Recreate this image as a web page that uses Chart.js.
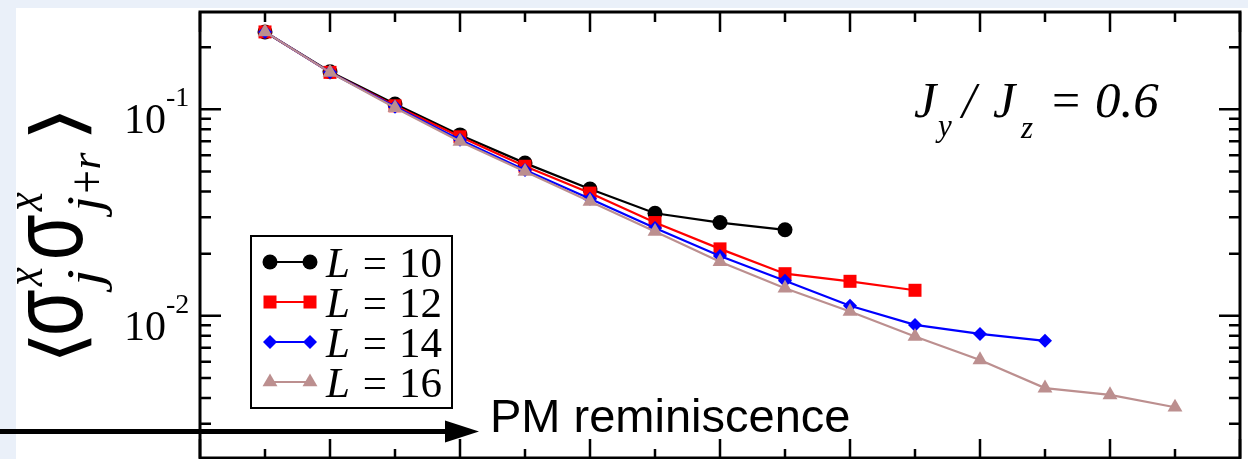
<!DOCTYPE html>
<html>
<head>
<meta charset="utf-8">
<script src="https://cdn.jsdelivr.net/npm/chart.js@4/dist/chart.umd.min.js"></script>
<style>
  html, body { margin: 0; padding: 0; overflow: hidden; width: 1248px; height: 459px; background: #EAF0F9; }
  #panel { position: absolute; left: 16px; top: 8px; width: 1232px; height: 451px; background: #ffffff; }
  #wrap { position: absolute; left: 0; top: 0; width: 1248px; height: 459px; }
  canvas { display: block; }
</style>
</head>
<body>
<div id="panel"></div>
<div id="wrap"><canvas id="c" width="1248" height="459" style="width:1248px;height:459px"></canvas></div>
<script>
// Distance r between the two spins
const rSep = [1, 2, 3, 4, 5, 6, 7, 8, 9, 10, 11, 12, 13, 14, 15];

// <sigma^x_j sigma^x_{j+r}> for each chain length L (r = 1 .. L-1)
const corrL10 = [0.237, 0.152, 0.106, 0.0752, 0.0549, 0.0411, 0.0314, 0.0283, 0.0261];
const corrL12 = [0.237, 0.151, 0.104, 0.0736, 0.0530, 0.0393, 0.0283, 0.0211, 0.0160, 0.0147, 0.0133];
const corrL14 = [0.237, 0.151, 0.103, 0.0712, 0.0509, 0.0369, 0.0266, 0.0195, 0.0148, 0.0112, 0.00904, 0.00818, 0.00757];
const corrL16 = [0.237, 0.151, 0.1017, 0.0699, 0.0500, 0.0358, 0.0256, 0.0183, 0.0136, 0.0105, 0.00794, 0.00612, 0.00447, 0.00414, 0.00361];

const chainLengths = ['10', '12', '14', '16'];

// Axis ticks
const xMajorTicks = [0, 2, 4, 6, 8, 10, 12, 14, 16];
const xMinorTicks = [1, 3, 5, 7, 9, 11, 13, 15];
const yMajorTicks = [0.1, 0.01];
const yTickMantissa = ['10', '10'];
const yTickExponent = ['-1', '-2'];
const yMinorTicks = [0.2, 0.09, 0.08, 0.07, 0.06, 0.05, 0.04, 0.03, 0.02,
                     0.009, 0.008, 0.007, 0.006, 0.005, 0.004, 0.003];

// Marker / line styling per series
const seriesStyle = [
  { color: '#000000', pointStyle: 'circle',   radius: 7.5 },
  { color: '#FF0000', pointStyle: 'rect',     radius: 9.2 },
  { color: '#0000FF', pointStyle: 'rectRot',  radius: 7 },
  { color: '#BC8F8F', pointStyle: 'triangle', radius: 8.6 }
];

const seriesValues = [corrL10, corrL12, corrL14, corrL16];

const datasets = seriesValues.map((vals, k) => ({
  label: 'L = ' + chainLengths[k],
  data: vals.map((v, i) => ({ x: rSep[i], y: v })),
  borderColor: seriesStyle[k].color,
  backgroundColor: seriesStyle[k].color,
  borderWidth: 2.2,
  pointStyle: seriesStyle[k].pointStyle,
  pointRadius: seriesStyle[k].radius,
  pointBorderWidth: 0,
  pointBackgroundColor: seriesStyle[k].color,
  tension: 0,
  order: 3 - k
}));

const SERIF = '"Liberation Serif", "DejaVu Serif", serif';
const SANS = '"Liberation Sans", Arial, sans-serif';

// Draw a rotated (bottom-to-top) glyph string stretched into a screen box
function fitRot(ctx, str, font, x0, x1, y0, y1) {
  ctx.save();
  ctx.font = font;
  ctx.textAlign = 'left';
  ctx.textBaseline = 'alphabetic';
  const m = ctx.measureText(str);
  const iw = m.actualBoundingBoxLeft + m.actualBoundingBoxRight;
  const ih = m.actualBoundingBoxAscent + m.actualBoundingBoxDescent;
  const icx = (m.actualBoundingBoxRight - m.actualBoundingBoxLeft) / 2;
  const icy = (m.actualBoundingBoxDescent - m.actualBoundingBoxAscent) / 2;
  ctx.translate((x0 + x1) / 2, (y0 + y1) / 2);
  ctx.rotate(-Math.PI / 2);
  ctx.scale((y1 - y0) / iw, (x1 - x0) / ih);
  ctx.fillStyle = '#000';
  ctx.fillText(str, -icx, -icy);
  ctx.restore();
}

function text(ctx, str, x, y, font, align) {
  ctx.font = font;
  ctx.textAlign = align || 'left';
  ctx.textBaseline = 'alphabetic';
  ctx.fillStyle = '#000';
  ctx.fillText(str, x, y);
}

const frameAndTicks = {
  id: 'frameAndTicks',
  beforeDatasetsDraw(chart) {
    const { ctx, chartArea: a, scales } = chart;
    const xs = scales.x, ys = scales.y;
    ctx.save();
    ctx.strokeStyle = '#000';
    ctx.lineWidth = 2.5;
    ctx.lineCap = 'butt';
    ctx.beginPath();
    xMajorTicks.forEach(v => {
      const px = xs.getPixelForValue(v);
      ctx.moveTo(px, a.top); ctx.lineTo(px, a.top + 20);
      ctx.moveTo(px, a.bottom); ctx.lineTo(px, a.bottom - 19);
    });
    xMinorTicks.forEach(v => {
      const px = xs.getPixelForValue(v);
      ctx.moveTo(px, a.top); ctx.lineTo(px, a.top + 10);
      ctx.moveTo(px, a.bottom); ctx.lineTo(px, a.bottom - 9);
    });
    yMajorTicks.forEach(v => {
      const py = ys.getPixelForValue(v);
      ctx.moveTo(a.left, py); ctx.lineTo(a.left + 21, py);
      ctx.moveTo(a.right, py); ctx.lineTo(a.right - 21, py);
    });
    yMinorTicks.forEach(v => {
      const py = ys.getPixelForValue(v);
      ctx.moveTo(a.left, py); ctx.lineTo(a.left + 11, py);
      ctx.moveTo(a.right, py); ctx.lineTo(a.right - 11, py);
    });
    ctx.stroke();
    ctx.lineWidth = 3;
    ctx.strokeRect(a.left, a.top, a.right - a.left, a.bottom - a.top);
    ctx.restore();
  },
  afterDraw(chart) {
    const { ctx, scales } = chart;
    const ys = scales.y;
    ctx.save();

    // y tick labels 10^-1, 10^-2
    yMajorTicks.forEach((v, i) => {
      const py = ys.getPixelForValue(v);
      text(ctx, yTickMantissa[i], 166, py + 24, '42px ' + SERIF, 'right');
      text(ctx, yTickExponent[i], 166, py - 3, '28px ' + SERIF, 'left');
    });

    // y axis title  < sigma^x_j sigma^x_{j+r} >
    fitRot(ctx, '\u27E8', '80px "DejaVu Sans", "Noto Sans CJK SC"', 28, 92, 338, 357);
    fitRot(ctx, '\u03C3', '100px ' + SANS, 28, 83, 290, 333);
    fitRot(ctx, 'x', 'italic 60px ' + SERIF, 17, 42, 267, 287);
    fitRot(ctx, 'j', 'italic 60px ' + SERIF, 68, 112, 270, 293);
    fitRot(ctx, '\u03C3', '100px ' + SANS, 28, 83, 215, 257);
    fitRot(ctx, 'x', 'italic 60px ' + SERIF, 17, 42, 192, 212);
    fitRot(ctx, 'j', 'italic 60px ' + SERIF, 68, 112, 197, 218);
    fitRot(ctx, '+', '60px ' + SERIF, 75, 100, 172, 192);
    fitRot(ctx, 'r', 'italic 60px ' + SERIF, 80, 100, 152, 168);
    fitRot(ctx, '\u27E9', '80px "DejaVu Sans", "Noto Sans CJK SC"', 28, 92, 113, 135);

    // legend
    ctx.strokeStyle = '#000';
    ctx.lineWidth = 2;
    ctx.strokeRect(251, 236, 201, 172);
    const rows = [262, 302, 342, 382];
    chart.data.datasets.forEach((ds, k) => {
      const y = rows[k];
      const st = seriesStyle[k];
      ctx.strokeStyle = st.color;
      ctx.lineWidth = 2.2;
      ctx.beginPath();
      ctx.moveTo(270, y); ctx.lineTo(310, y);
      ctx.stroke();
      ctx.fillStyle = st.color;
      [270, 310].forEach(px => {
        Chart.helpers.drawPoint(ctx, { pointStyle: st.pointStyle, radius: st.radius, rotation: 0, borderWidth: 0 }, px, y);
      });
      text(ctx, 'L', 326, y + 15, 'italic 43px ' + SERIF, 'left');
      text(ctx, '=', 375, y + 15, '43px ' + SERIF, 'center');
      text(ctx, chainLengths[k], 399, y + 15, '43px ' + SERIF, 'left');
    });

    // J_y / J_z = 0.6
    text(ctx, 'J', 914, 117, 'italic 50px ' + SERIF, 'left');
    text(ctx, 'y', 938, 136, 'italic 31px ' + SERIF, 'left');
    text(ctx, '/', 962, 117, 'italic 50px ' + SERIF, 'left');
    text(ctx, 'J', 993, 117, 'italic 50px ' + SERIF, 'left');
    text(ctx, 'z', 1021, 138, 'italic 31px ' + SERIF, 'left');
    text(ctx, '=', 1066, 117, '50px ' + SERIF, 'center');
    text(ctx, '0.6', 1095, 117, 'italic 51px ' + SERIF, 'left');

    // arrow and annotation
    ctx.strokeStyle = '#000';
    ctx.fillStyle = '#000';
    ctx.lineWidth = 5;
    ctx.beginPath();
    ctx.moveTo(0, 431.5); ctx.lineTo(450, 431.5);
    ctx.stroke();
    ctx.beginPath();
    ctx.moveTo(445, 420.5); ctx.lineTo(479, 431.5); ctx.lineTo(445, 442.5);
    ctx.closePath();
    ctx.fill();
    text(ctx, 'PM reminiscence', 490, 432, '47px ' + SANS, 'left');

    ctx.restore();
  }
};

new Chart(document.getElementById('c'), {
  type: 'line',
  data: { datasets },
  options: {
    responsive: false,
    animation: false,
    devicePixelRatio: 1,
    events: [],
    layout: { autoPadding: false, padding: { left: 200, top: 12, right: 8, bottom: 1 } },
    plugins: { legend: { display: false }, tooltip: { enabled: false } },
    scales: {
      x: { type: 'linear', min: 0, max: 16, display: false },
      y: { type: 'logarithmic', min: 0.00205, max: 0.296, display: false }
    }
  },
  plugins: [frameAndTicks]
});
</script>
</body>
</html>
